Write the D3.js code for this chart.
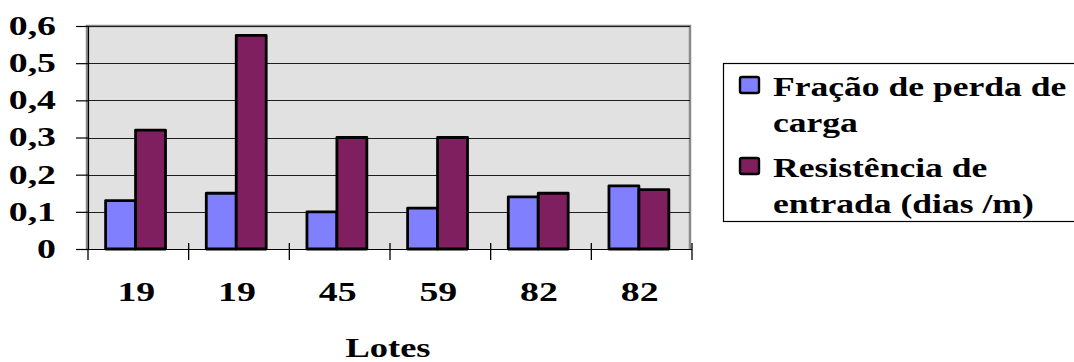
<!DOCTYPE html>
<html>
<head>
<meta charset="utf-8">
<script src="https://cdn.jsdelivr.net/npm/d3@7/dist/d3.min.js"></script>
<style>
  html, body { margin: 0; padding: 0; background: #fff; }
  svg { display: block; }
</style>
</head>
<body>
<svg id="chart" width="1074" height="362"></svg>
<script>
// Lotes (categories) and the two measured series
const lotes = ["19", "19", "45", "59", "82", "82"];
const fracaoPerdaCarga = [0.13, 0.15, 0.10, 0.11, 0.14, 0.17];
const resistenciaEntrada = [0.32, 0.575, 0.30, 0.30, 0.15, 0.16];
const yTicks = [0, 0.1, 0.2, 0.3, 0.4, 0.5, 0.6];

const colors = ["#8080ff", "#7f1f5f"];
const FONT = "\"Liberation Serif\", \"Times New Roman\", Times, serif";
const SX = 1.35;       // horizontal stretch of the axis lettering
const SX_LEGEND = 1.27;

const svg = d3.select("#chart");
const plot = { left: 88, right: 690, top: 26, bottom: 249 };

function styleText(sel, size) {
  sel.style("font-family", FONT)
    .style("font-weight", "bold")
    .style("font-size", size + "px")
    .attr("fill", "#000");
}

const x0 = d3.scaleBand()
  .domain(d3.range(lotes.length))
  .range([plot.left, plot.right + 2])
  .padding(0);
const bw = x0.bandwidth();
const x1 = d3.scaleBand()
  .domain([0, 1])
  .range([bw * 0.175, bw * 0.77])
  .padding(0);
const y = d3.scaleLinear().domain([0, 0.6]).range([plot.bottom, plot.top]);

// plot area background and frame
svg.append("rect")
  .attr("x", plot.left).attr("y", plot.top)
  .attr("width", plot.right - plot.left).attr("height", plot.bottom - plot.top)
  .attr("fill", "#e1e1e1");
svg.append("path")
  .attr("d", `M${plot.left - 1},${plot.bottom} V${plot.top} H${plot.right} V${plot.bottom}`)
  .attr("fill", "none").attr("stroke", "#8a8a8a").attr("stroke-width", 2.5);

// horizontal gridlines
svg.append("g").selectAll("line")
  .data(yTicks.filter(d => d > 0))
  .join("line")
  .attr("x1", plot.left).attr("x2", plot.right)
  .attr("y1", d => Math.round(y(d)) + 0.5).attr("y2", d => Math.round(y(d)) + 0.5)
  .attr("stroke", "#1e1e1e").attr("stroke-width", 1.2);

// bars
const groups = svg.append("g").selectAll("g")
  .data(lotes.map((l, i) => ({ i, vals: [fracaoPerdaCarga[i], resistenciaEntrada[i]] })))
  .join("g")
  .attr("transform", d => `translate(${x0(d.i)},0)`);
groups.selectAll("rect")
  .data(d => d.vals.map((v, s) => ({ v, s })))
  .join("rect")
  .attr("x", d => x1(d.s))
  .attr("width", x1.bandwidth())
  .attr("y", d => y(d.v))
  .attr("height", d => y(0) - y(d.v))
  .attr("fill", d => colors[d.s])
  .attr("stroke", "#000").attr("stroke-width", 2.8).attr("stroke-linejoin", "round");

// y axis
const yAxis = svg.append("g")
  .attr("transform", `translate(${plot.left},0)`)
  .call(d3.axisLeft(y).tickValues(yTicks).tickSize(12).tickPadding(0)
    .tickFormat(d => d3.format(".1~f")(d).replace(".", ",")));
yAxis.select(".domain").attr("stroke", "#000").attr("stroke-width", 1.2);
yAxis.selectAll(".tick line").attr("stroke", "#000").attr("stroke-width", 1.2);
yAxis.selectAll(".tick text")
  .attr("x", -32 / SX).attr("dy", "0.3em")
  .attr("transform", `scale(${SX},1)`)
  .attr("text-anchor", "end")
  .call(styleText, 28);

// x axis: labels centred in each band, tick marks on band boundaries
const xAxis = svg.append("g")
  .attr("transform", `translate(0,${plot.bottom})`)
  .call(d3.axisBottom(x0).tickSize(0).tickPadding(0).tickFormat(i => lotes[i]));
xAxis.select(".domain").remove();
xAxis.selectAll(".tick text")
  .attr("y", 0).attr("dy", 0)
  .attr("transform", `translate(-2,52) scale(${SX},1)`)
  .call(styleText, 28);
svg.append("line")
  .attr("x1", 76).attr("x2", plot.right + 2)
  .attr("y1", plot.bottom + 0.5).attr("y2", plot.bottom + 0.5)
  .attr("stroke", "#000").attr("stroke-width", 1.2);
svg.append("g").selectAll("line")
  .data(d3.range(lotes.length + 1))
  .join("line")
  .attr("x1", i => i < lotes.length ? x0(i) : x0(i - 1) + bw)
  .attr("x2", i => i < lotes.length ? x0(i) : x0(i - 1) + bw)
  .attr("y1", i => i === 0 ? plot.bottom : plot.bottom - 6)
  .attr("y2", plot.bottom + 11)
  .attr("stroke", "#000").attr("stroke-width", 1.3);

// axis title
svg.append("text")
  .attr("transform", `translate(388,357) scale(${SX},1)`)
  .attr("text-anchor", "middle")
  .call(styleText, 27)
  .text("Lotes");

// legend
const legend = svg.append("g");
legend.append("rect")
  .attr("x", 723.5).attr("y", 63.5).attr("width", 360).attr("height", 158)
  .attr("fill", "#fff").attr("stroke", "#000").attr("stroke-width", 1.2);
const legendLines = [
  ["Fração de perda de", "carga"],
  ["Resistência de", "entrada (dias /m)"]
];
const entryY = [77, 158];
legendLines.forEach((lines, s) => {
  legend.append("rect")
    .attr("x", 740).attr("y", entryY[s]).attr("width", 19).attr("height", 16)
    .attr("rx", 2)
    .attr("fill", colors[s]).attr("stroke", "#000").attr("stroke-width", 2.4);
  lines.forEach((t, k) => {
    legend.append("text")
      .attr("transform", `translate(773,${entryY[s] + 19 + k * 36}) scale(${SX_LEGEND},1)`)
      .call(styleText, 28)
      .text(t);
  });
});
</script>
</body>
</html>
